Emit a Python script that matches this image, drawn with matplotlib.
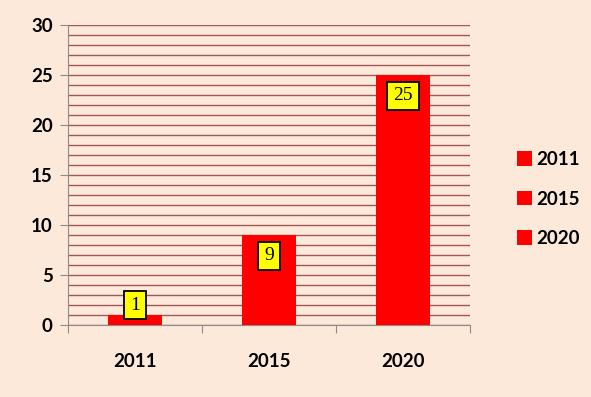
import matplotlib
matplotlib.use("Agg")
import matplotlib.pyplot as plt
from matplotlib.patches import Patch
import numpy as np

categories = ["2011", "2015", "2020"]
values = [1, 9, 25]
y_ticks = [0, 5, 10, 15, 20, 25, 30]

bg = "#FCE9DA"
bar_color = "#FF0000"
grid_color = "#A35656"
axis_color = "#8C8C8C"

plt.rcParams["font.family"] = ["Lato", "DejaVu Sans"]

fig = plt.figure(figsize=(5.91, 3.97), dpi=100, facecolor=bg)
ax = fig.add_axes([68 / 591, 1 - 325 / 397, 402 / 591, 300 / 397])
ax.set_facecolor(bg)

x = np.arange(len(categories))
bars = ax.bar(x, values, width=0.41, color=bar_color, zorder=3)

ax.set_xlim(-0.5, len(categories) - 0.5)
ax.set_ylim(0, 30)
ax.set_yticks(y_ticks)
ax.set_yticklabels([str(t) for t in y_ticks], fontsize=13.5, fontweight="bold")
ax.set_yticks(np.arange(0, 31, 1), minor=True)
ax.tick_params(axis="y", which="major", length=6, color=axis_color, pad=5)
ax.tick_params(axis="y", which="minor", length=0)
ax.grid(axis="y", which="both", color=grid_color, linewidth=1.0, zorder=1)

# category labels sit between the boundary tick marks
ax.set_xticks(np.arange(len(categories) + 1) - 0.5)
ax.set_xticklabels([])
ax.set_xticks(x, minor=True)
ax.set_xticklabels(categories, minor=True, fontsize=13.5, fontweight="bold")
ax.tick_params(axis="x", which="major", length=6, color=axis_color, direction="out")
ax.tick_params(axis="x", which="minor", length=0, pad=20)

for side in ["top", "right"]:
    ax.spines[side].set_visible(False)
for side in ["left", "bottom"]:
    ax.spines[side].set_color(axis_color)

offsets = [10, -21, -21]
for xi, v, off in zip(x, values, offsets):
    ax.annotate(str(v), (xi, v), xytext=(0, off), textcoords="offset pixels",
                ha="center", va="center", fontsize=14, family="Liberation Serif",
                bbox=dict(boxstyle="square,pad=0.3", fc="#FFFF00", ec="black", lw=1.3),
                zorder=5)

handles = [Patch(facecolor=bar_color, edgecolor="none") for _ in categories]
fig.legend(handles, categories, loc="center left", bbox_to_anchor=(500 / 591, 1 - 199 / 397),
           frameon=False, prop=dict(size=13.5, weight="bold"), handlelength=0.8,
           handleheight=0.8, handletextpad=0.25, labelspacing=1.2)

fig.savefig("out.png", dpi=100, facecolor=bg)
